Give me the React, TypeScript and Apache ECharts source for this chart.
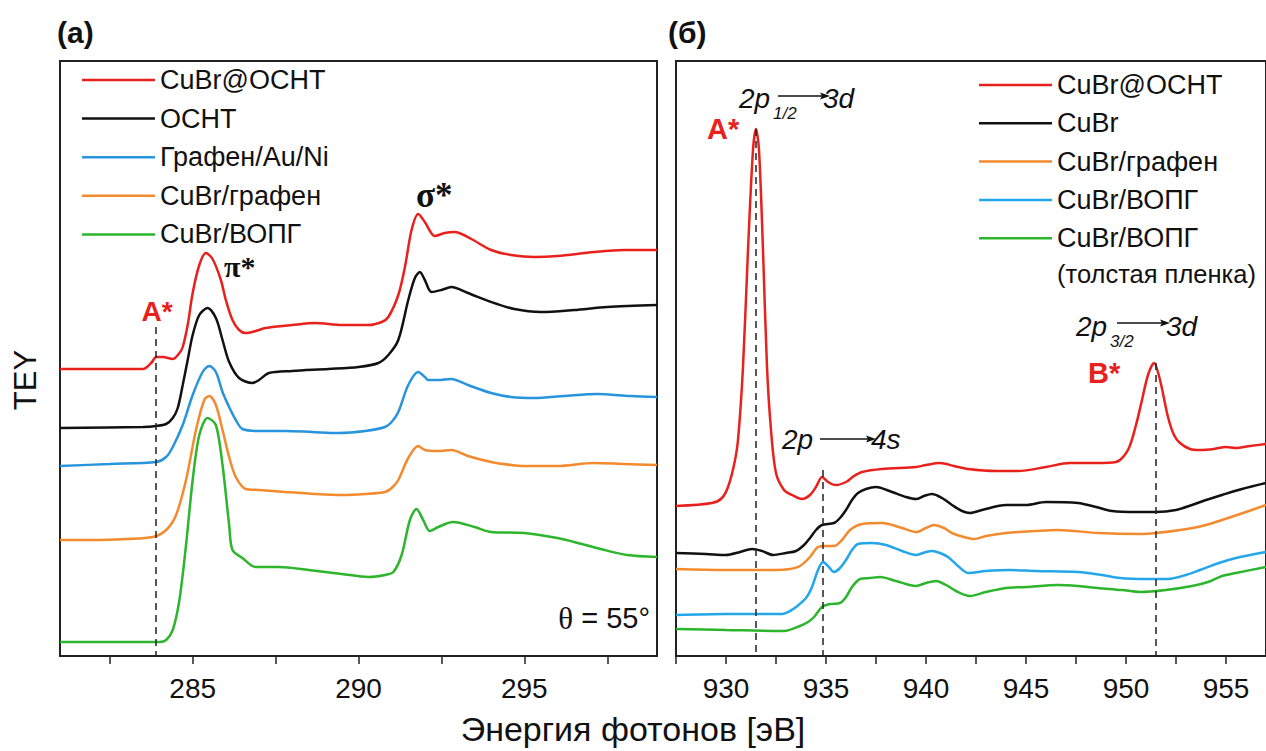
import React, { useEffect, useRef } from "react";
import * as echarts from "echarts";

// ---------- Panel (a): C K-edge ----------
const energyA_red = [281, 282, 283, 283.5, 283.75, 283.9, 284.1, 284.4, 284.6, 284.7, 284.85, 285.0, 285.2, 285.4, 285.6, 285.85, 286.0, 286.2, 286.4, 286.6, 286.9, 287.2, 288.0, 288.7, 289.5, 290.3, 290.7, 290.9, 291.2, 291.4, 291.6, 291.8, 292.0, 292.3, 292.6, 292.9, 293.4, 294.0, 294.6, 295.3, 296.0, 297.1, 298.0, 299.0];
const teyA_red = [287, 287, 287, 287, 293, 299, 299, 297, 303, 309, 331, 363, 391, 403, 397, 376, 356, 336, 326, 323, 325, 328, 331, 333, 331, 331, 334, 339, 361, 389, 426, 442, 434, 420, 423, 424, 417, 406, 401, 399, 400, 404, 406, 406];

const energyA_black = [281, 283.5, 283.9, 284.2, 284.4, 284.55, 284.7, 284.85, 285.0, 285.2, 285.45, 285.7, 285.9, 286.1, 286.4, 286.8, 287.0, 287.3, 288.0, 289.1, 290.0, 290.6, 290.9, 291.2, 291.5, 291.7, 291.85, 292.0, 292.2, 292.5, 292.8, 293.3, 294.0, 294.7, 295.5, 296.5, 297.5, 299];
const teyA_black = [228, 229, 230, 232, 238, 248, 271, 296, 321, 341, 348, 338, 316, 294, 278, 273, 276, 283, 285, 287, 289, 293, 301, 316, 356, 378, 384, 376, 364, 366, 369, 363, 354, 347, 344, 346, 349, 351];

const energyA_blue = [281, 282.5, 283.9, 284.2, 284.4, 284.7, 285.0, 285.3, 285.5, 285.7, 285.9, 286.1, 286.3, 286.5, 287.0, 287.8, 288.6, 289.4, 290.2, 290.8, 291.0, 291.2, 291.5, 291.8, 292.0, 292.1, 292.4, 292.8, 293.3, 294.0, 294.6, 295.3, 296.2, 297.2, 298.2, 299];
const teyA_blue = [190, 192, 194, 199, 209, 231, 261, 284, 290, 284, 264, 249, 236, 227, 225, 225, 224, 223, 225, 229, 234, 244, 271, 284, 279, 276, 276, 277, 271, 263, 259, 258, 260, 262, 260, 259];

const energyA_orange = [281, 282, 283, 283.8, 284.2, 284.5, 284.8, 285.1, 285.35, 285.5, 285.7, 285.9, 286.1, 286.3, 286.6, 287.0, 287.8, 288.7, 289.5, 290.2, 290.8, 291.0, 291.2, 291.5, 291.8, 292.0, 292.4, 292.8, 293.3, 294.0, 294.6, 295.0, 296.0, 297.1, 298.0, 299];
const teyA_orange = [116, 116, 117, 119, 126, 141, 176, 226, 256, 260, 251, 226, 199, 179, 167, 166, 164, 162, 161, 162, 164, 168, 176, 198, 210, 206, 205, 206, 200, 194, 191, 190, 190, 193, 192, 191];

const energyA_green = [281, 283, 284, 284.2, 284.4, 284.6, 284.8, 285.0, 285.2, 285.45, 285.7, 285.9, 286.1, 286.2, 286.5, 286.9, 287.6, 288.5, 289.5, 290.3, 290.8, 291.05, 291.3, 291.55, 291.75, 291.95, 292.15, 292.4, 292.85, 293.5, 294.0, 295.0, 296.0, 296.5, 297.3, 298.1, 299];
const teyA_green = [14, 14, 14, 16, 26, 56, 111, 176, 221, 238, 231, 191, 131, 106, 98, 89, 89, 86, 82, 79, 81, 84, 101, 136, 147, 136, 125, 129, 134, 129, 124, 123, 118, 114, 107, 101, 99];

// ---------- Panel (б): Cu L-edge ----------
const energyB_red = [927.5, 929.3, 929.8, 930.1, 930.4, 930.6, 930.85, 931.1, 931.35, 931.5, 931.65, 931.85, 932.05, 932.25, 932.5, 932.9, 933.3, 933.8, 934.2, 934.5, 934.8, 935.1, 935.5, 936.0, 936.4, 936.8, 937.8, 939.5, 940.0, 940.7, 941.4, 942.1, 943.5, 944.6, 946.0, 947.2, 948.5, 949.5, 950.1, 950.5, 950.8, 951.1, 951.4, 951.7, 952.1, 952.4, 952.7, 953.2, 953.7, 954.4, 955.0, 955.5, 956.2, 957];
const teyB_red = [150, 153, 158, 169, 191, 216, 289, 406, 506, 527, 506, 406, 289, 226, 183, 166, 161, 157, 161, 169, 179, 174, 171, 174, 180, 184, 187, 189, 191, 193, 190, 187, 185, 185, 189, 193, 193, 194, 206, 231, 256, 281, 293, 276, 239, 221, 213, 207, 206, 207, 209, 208, 210, 212];

const energyB_black = [927.5, 929.0, 930.0, 930.7, 931.3, 931.8, 932.35, 933.0, 933.5, 933.9, 934.2, 934.5, 934.8, 935.4, 935.7, 936.0, 936.3, 936.6, 937.0, 937.5, 938.3, 939.0, 939.5, 939.9, 940.3, 940.8, 941.3, 941.8, 942.2, 942.8, 944.0, 945.0, 946.0, 947.6, 948.5, 949.3, 950.5, 951.5, 952.5, 953.3, 954.0, 954.8, 955.8, 957];
const teyB_black = [103, 102, 101, 104, 107, 105, 101, 103, 105, 111, 118, 126, 131, 133, 138, 146, 156, 163, 167, 169, 164, 159, 157, 160, 162, 158, 151, 145, 143, 146, 151, 151, 154, 153, 149, 145, 144, 144, 146, 151, 156, 161, 167, 173];

const energyB_orange = [927.5, 930.0, 932.5, 933.2, 933.7, 934.2, 934.6, 935.0, 935.4, 935.8, 936.2, 936.8, 937.8, 938.8, 939.5, 940.0, 940.4, 940.9, 941.3, 941.9, 942.4, 943.0, 944.0, 945.5, 946.6, 948.6, 950.7, 951.5, 952.7, 953.8, 954.8, 956.0, 957];
const teyB_orange = [87, 86, 86, 87, 90, 99, 109, 110, 110, 116, 126, 132, 133, 128, 124, 128, 131, 128, 123, 119, 117, 120, 123, 125, 126, 123, 122, 123, 126, 130, 136, 144, 151];

const energyB_blue = [927.5, 930.0, 932.75, 933.2, 933.5, 934.0, 934.3, 934.6, 934.85, 935.1, 935.4, 935.7, 936.0, 936.3, 936.6, 937.3, 938.0, 938.8, 939.5, 940.0, 940.3, 940.7, 941.1, 941.6, 942.1, 943.0, 944.2, 945.5, 947.6, 948.8, 949.7, 951.0, 952.1, 953.0, 953.7, 954.5, 954.8, 955.5, 957];
const teyB_blue = [41, 42, 42, 45, 49, 58, 69, 86, 94, 90, 84, 88, 96, 106, 112, 113, 111, 105, 101, 104, 105, 103, 99, 90, 83, 85, 86, 85, 84, 81, 78, 77, 77, 81, 86, 92, 94, 98, 104];

const energyB_green = [927.5, 930.0, 932.9, 933.7, 934.1, 934.4, 934.8, 935.2, 935.7, 936.0, 936.3, 936.7, 937.2, 937.7, 938.5, 939.5, 940.0, 940.5, 941.0, 941.5, 942.2, 943.0, 944.0, 945.0, 946.6, 947.6, 948.6, 949.8, 950.7, 952.0, 953.3, 954.1, 954.8, 955.5, 957];
const teyB_green = [27, 26, 25, 30, 34, 39, 49, 52, 53, 59, 69, 77, 78, 79, 75, 70, 73, 75, 71, 65, 60, 64, 68, 69, 71, 70, 68, 66, 64, 66, 70, 74, 80, 83, 89];

// Legends (display labels)
const legendA = ["CuBr@ОСНТ", "ОСНТ", "Графен/Au/Ni", "CuBr/графен", "CuBr/ВОПГ"];
const legendB = ["CuBr@ОСНТ", "CuBr", "CuBr/графен", "CuBr/ВОПГ", "CuBr/ВОПГ"];

// Axis ticks
const ticksA = [282.5, 285, 287.5, 290, 292.5, 295, 297.5];
const labelsA = [285, 290, 295];
const ticksB = [927.5, 930, 932.5, 935, 937.5, 940, 942.5, 945, 947.5, 950, 952.5, 955];
const labelsB = [930, 935, 940, 945, 950, 955];

// Dashed marker lines: [energy, top intensity]
const markA = [[283.9, 329]];
const markB = [[931.5, 527], [934.85, 186], [951.5, 293]];

const COLORS = {
  red: "#e8211d",
  black: "#111111",
  blueA: "#2794db",
  blueB: "#23a6ea",
  orange: "#f48a2e",
  green: "#2db52d",
};

const SANS = "'Liberation Sans', Arial, Helvetica, sans-serif";
const SERIF = "'Liberation Serif', 'Times New Roman', serif";

function zip(xs: number[], ys: number[]) {
  return xs.map((x, i) => [x, ys[i]]);
}

function makeSeries(id: string, x: number[], y: number[], color: string, idx: number, marks?: number[][]) {
  const s: any = {
    type: "line",
    name: id,
    xAxisIndex: idx,
    yAxisIndex: idx,
    data: zip(x, y),
    showSymbol: false,
    symbol: "none",
    smooth: 0.3,
    lineStyle: { color, width: 2.5 },
    itemStyle: { color },
    z: 3,
  };
  if (marks) {
    s.markLine = {
      silent: true,
      symbol: "none",
      label: { show: false },
      lineStyle: { color: "#222", width: 1.5, type: [7, 5] },
      z: 5,
      data: marks.map(([e, top]) => [{ coord: [e, top] }, { coord: [e, 0] }]),
    };
  }
  return s;
}

function arrow(x1: number, x2: number, y: number) {
  return [
    { type: "line", shape: { x1, y1: y, x2: x2 - 6, y2: y }, style: { stroke: "#111", lineWidth: 1.3 } },
    {
      type: "polygon",
      shape: { points: [[x2, y], [x2 - 10, y - 3.5], [x2 - 8, y], [x2 - 10, y + 3.5]] },
      style: { fill: "#111" },
    },
  ];
}

function txt(text: string, x: number, y: number, opts: any = {}) {
  return {
    type: "text",
    x,
    y,
    style: {
      text,
      fontFamily: SANS,
      fontSize: 26,
      fill: "#111",
      align: "left",
      verticalAlign: "middle",
      ...opts,
    },
    z: 10,
  };
}

export default function App() {
  const ref = useRef<HTMLDivElement>(null);

  useEffect(() => {
    if (!ref.current) return;
    const chart = echarts.init(ref.current, undefined, { renderer: "svg" });

    const axisLine = { show: true, onZero: false, lineStyle: { color: "#222", width: 2 } };

    const xAxisCommon = (idx: number, min: number, max: number, ticks: number[], labels: number[]) => ({
      type: "value",
      gridIndex: idx,
      min,
      max,
      axisLine,
      axisTick: { show: true, customValues: ticks, length: 8, lineStyle: { color: "#222", width: 1.5 } },
      axisLabel: { show: true, customValues: labels, fontSize: 28, fontFamily: SANS, color: "#111", margin: 18 },
      splitLine: { show: false },
      minorTick: { show: false },
    });

    const yAxisCommon = (idx: number) => ({
      type: "value",
      gridIndex: idx,
      min: 0,
      max: 595,
      axisLine,
      axisTick: { show: false },
      axisLabel: { show: false },
      splitLine: { show: false },
    });

    const series = [
      makeSeries("a0", energyA_red, teyA_red, COLORS.red, 0, markA),
      makeSeries("a1", energyA_black, teyA_black, COLORS.black, 0),
      makeSeries("a2", energyA_blue, teyA_blue, COLORS.blueA, 0),
      makeSeries("a3", energyA_orange, teyA_orange, COLORS.orange, 0),
      makeSeries("a4", energyA_green, teyA_green, COLORS.green, 0),
      makeSeries("b0", energyB_red, teyB_red, COLORS.red, 1, markB),
      makeSeries("b1", energyB_black, teyB_black, COLORS.black, 1),
      makeSeries("b2", energyB_orange, teyB_orange, COLORS.orange, 1),
      makeSeries("b3", energyB_blue, teyB_blue, COLORS.blueB, 1),
      makeSeries("b4", energyB_green, teyB_green, COLORS.green, 1),
    ];

    const labelOf = (name: string) => {
      const i = Number(name.slice(1));
      return name[0] === "a" ? legendA[i] : legendB[i];
    };

    const legendCommon = {
      orient: "vertical",
      icon: "rect",
      itemWidth: 73,
      itemHeight: 2.5,
      padding: 0,
      selectedMode: false,
      formatter: labelOf,
      textStyle: { fontSize: 27, fontFamily: SANS, color: "#111", lineHeight: 27 },
    };

    const graphic: any[] = [
      txt("(a)", 57, 32, { fontWeight: "bold", fontSize: 30 }),
      txt("(б)", 668, 32, { fontWeight: "bold", fontSize: 30 }),
      {
        type: "text",
        x: 25,
        y: 380,
        rotation: Math.PI / 2,
        style: { text: "TEY", fontFamily: SANS, fontSize: 31, fill: "#111", align: "center", verticalAlign: "middle" },
      },
      txt("Энергия фотонов [эВ]", 633, 729, { align: "center", fontSize: 34 }),
      // panel (a) annotations
      txt("A*", 157, 311, { align: "center", fontWeight: "bold", fill: COLORS.red, fontSize: 28 }),
      txt("π*", 224, 266, { fontWeight: "bold", fontFamily: SERIF, fontSize: 30, lineHeight: 24 }),
      txt("σ*", 416, 195, { fontWeight: "bold", fontFamily: SERIF, fontSize: 35, lineHeight: 30 }),
      {
        type: "text",
        x: 650,
        y: 618,
        style: {
          text: "{t|θ} = 55°",
          fontFamily: SANS,
          fontSize: 29,
          fill: "#111",
          align: "right",
          verticalAlign: "middle",
          rich: { t: { fontFamily: SERIF, fontSize: 31, fill: "#111" } },
        },
        z: 10,
      },
      // panel (б) annotations
      txt("A*", 707, 129, { fontWeight: "bold", fill: COLORS.red, fontSize: 29 }),
      txt("2p", 739, 98, { fontStyle: "italic", fontSize: 28 }),
      txt("1/2", 773, 113, { fontStyle: "italic", fontSize: 17 }),
      ...arrow(778, 830, 96),
      txt("3d", 823, 98, { fontStyle: "italic", fontSize: 28 }),
      txt("2p", 1076, 326, { fontStyle: "italic", fontSize: 28 }),
      txt("3/2", 1110, 341, { fontStyle: "italic", fontSize: 17 }),
      ...arrow(1117, 1170, 323),
      txt("3d", 1166, 326, { fontStyle: "italic", fontSize: 28 }),
      txt("B*", 1088, 373, { fontWeight: "bold", fill: COLORS.red, fontSize: 29 }),
      txt("2p", 782, 439, { fontStyle: "italic", fontSize: 28 }),
      ...arrow(820, 876, 439),
      txt("4s", 871, 439, { fontStyle: "italic", fontSize: 28 }),
      txt("(толстая пленка)", 1057, 274, { fontSize: 25.5, lineHeight: 24 }),
    ];

    chart.setOption({
      animation: false,
      backgroundColor: "#ffffff",
      grid: [
        { left: 60, top: 61, width: 597, height: 595, show: true, borderColor: "#222", borderWidth: 2, containLabel: false },
        { left: 676, top: 61, width: 591, height: 595, show: true, borderColor: "#222", borderWidth: 2, containLabel: false },
      ],
      xAxis: [xAxisCommon(0, 281, 299, ticksA, labelsA), xAxisCommon(1, 927.5, 957, ticksB, labelsB)],
      yAxis: [yAxisCommon(0), yAxisCommon(1)],
      legend: [
        { ...legendCommon, data: ["a0", "a1", "a2", "a3", "a4"], left: 82, top: 66.5, itemGap: 11.6 },
        { ...legendCommon, data: ["b0", "b1", "b2", "b3", "b4"], left: 979, top: 71.5, itemGap: 11.3 },
      ],
      series,
      graphic,
    });

    return () => chart.dispose();
  }, []);

  return (
    <div
      ref={ref}
      style={{ position: "fixed", left: 0, top: 0, width: 1266, height: 751, background: "#fff" }}
    />
  );
}
